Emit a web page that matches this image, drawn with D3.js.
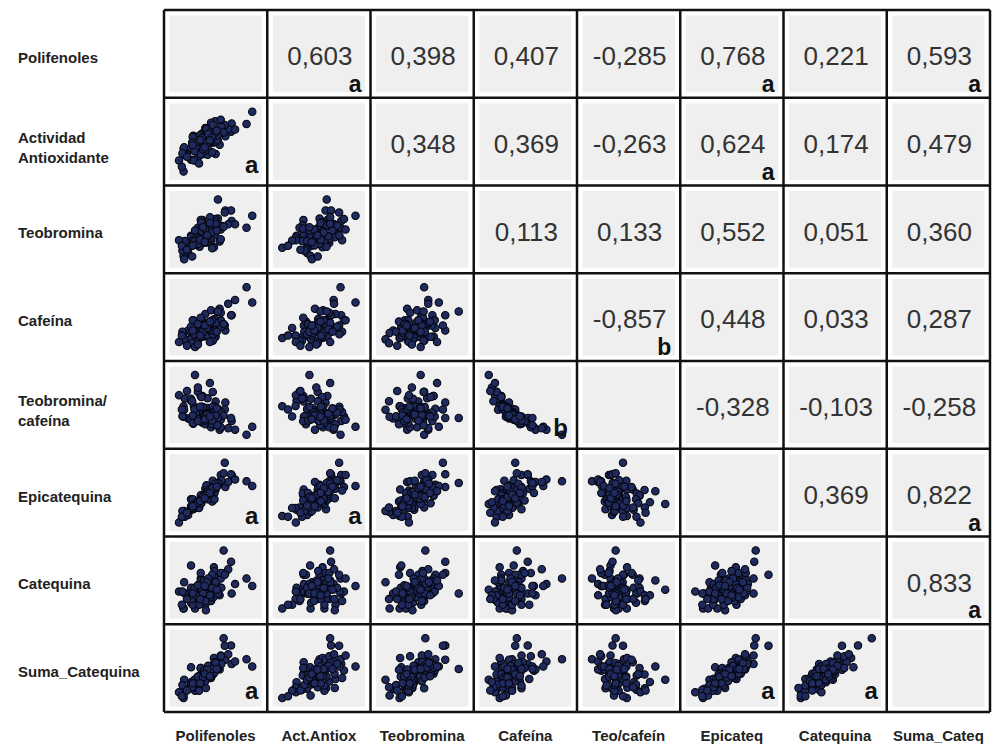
<!DOCTYPE html>
<html>
<head>
<meta charset="utf-8">
<script src="https://cdn.jsdelivr.net/npm/d3@7"></script>
<style>
  body { margin: 0; background: #ffffff; }
  text { font-family: Arial, "Liberation Sans", Helvetica, sans-serif; }
</style>
</head>
<body>
<svg id="chart" width="995" height="747"></svg>
<script>
// ---------- labels ----------
const colLabels = ["Polifenoles", "Act.Antiox", "Teobromina", "Cafeína", "Teo/cafeín", "Epicateq", "Catequina", "Suma_Cateq"];
const rowLabels = [["Polifenoles"], ["Actividad", "Antioxidante"], ["Teobromina"], ["Cafeína"],
                   ["Teobromina/", "cafeína"], ["Epicatequina"], ["Catequina"], ["Suma_Catequina"]];

// ---------- correlation coefficients (upper triangle) ----------
const correlations = [
  [null, 0.603, 0.398, 0.407, -0.285, 0.768, 0.221, 0.593],
  [null, null, 0.348, 0.369, -0.263, 0.624, 0.174, 0.479],
  [null, null, null, 0.113, 0.133, 0.552, 0.051, 0.360],
  [null, null, null, null, -0.857, 0.448, 0.033, 0.287],
  [null, null, null, null, null, -0.328, -0.103, -0.258],
  [null, null, null, null, null, null, 0.369, 0.822],
  [null, null, null, null, null, null, null, 0.833],
  [null, null, null, null, null, null, null, null]
];
// significance letters (upper triangle, mirrored into the scatter cells)
const significance = [
  ["", "a", "", "", "", "a", "", "a"],
  ["", "", "", "", "", "a", "", ""],
  ["", "", "", "", "", "", "", ""],
  ["", "", "", "", "b", "", "", ""],
  ["", "", "", "", "", "", "", ""],
  ["", "", "", "", "", "", "", "a"],
  ["", "", "", "", "", "", "", "a"],
  ["", "", "", "", "", "", "", ""]
];

// ---------- observations (one value per sample, same order in every array) ----------
const polifenoles = [143,163,190,147,214,186,138,168,163,240,130,183,185,160,150,178,203,130,172,195,143,132,193,160,169,213,155,165,131,220,157,178,148,184,250,143,180,170,122,181,158,195,157,161,182,172,208,146,185,128,181,160,184,202,145,171,168,189,127,196,150,155,176,136,200,190,
  170,158,175,152,166,177,162,186,149,168,173,155,164,180,159,171,146,188,167,176];
const actividad = [414,556,514,542,608,445,460,583,444,605,352,527,620,446,535,529,540,475,441,627,473,438,494,548,580,564,427,521,481,575,469,612,410,508,670,477,455,579,411,506,544,556,395,525,508,482,577,535,559,448,600,443,511,599,506,520,464,518,377,590,470,500,560,431,560,545,
  525,498,540,485,502,515,530,560,460,490,552,512,470,532,520,505,492,570,480,518];
const teobromina = [25.9,24.4,29.5,24.3,29.0,26.6,22.3,27.1,29.2,27.6,23.4,23.5,29.4,26.1,24.5,26.4,31.2,21.7,28.1,27.2,23.7,24.8,24.7,29.2,25.6,31.2,27.6,25.6,21.0,28.3,25.9,25.0,25.5,27.3,30.1,25.7,23.3,27.3,25.0,27.5,23.6,25.2,24.9,28.7,26.2,24.5,28.3,24.9,28.9,22.8,26.0,27.4,26.0,30.8,21.6,27.0,24.5,27.5,23.8,28.0,27.0,25.5,29.8,23.0,27.8,33.5,
  26.8,25.2,27.9,24.0,26.3,25.4,26.9,28.4,24.8,27.2,25.8,24.2,27.7,26.6,25.1,26.0,23.9,27.0,24.6,28.6];
const cafeina = [2.5,3.8,3.3,3.9,4.3,2.6,3.1,4.4,2.6,6.5,2.5,2.5,3.9,3.5,3.0,4.7,3.1,2.9,2.6,3.9,3.4,2.3,4.8,2.6,3.3,4.3,2.3,3.2,2.4,5.5,3.3,3.0,2.7,4.0,5.3,2.4,3.8,3.1,2.2,2.3,3.2,4.5,3.3,2.6,3.7,2.7,5.2,3.9,3.5,3.0,2.8,4.1,3.1,3.5,2.1,3.7,3.6,4.6,2.7,3.4,1.8,2.0,2.2,1.9,3.6,4.6,
  3.3,3.0,3.6,2.9,3.4,3.1,2.9,3.7,2.8,3.5,3.2,3.6,3.0,3.9,2.7,3.3,3.1,3.0,3.5,3.8];
const teoCafeina = [10.36,6.42,8.94,6.23,6.74,10.23,7.19,6.16,11.23,4.25,9.36,9.40,7.54,7.46,8.17,5.62,10.06,7.48,10.81,6.97,6.97,10.78,5.15,11.23,7.76,7.26,12.00,8.00,8.75,5.15,7.85,8.33,9.44,6.83,5.68,10.71,6.13,8.81,11.36,11.96,7.38,5.60,7.55,11.04,7.08,9.07,5.44,6.38,8.26,7.60,9.29,6.68,8.39,8.80,10.29,7.30,6.81,5.98,8.81,8.24,15.00,12.75,13.55,12.11,7.72,7.28,
  8.12,8.40,7.75,8.28,7.74,8.19,9.28,7.68,8.86,7.77,8.06,6.72,9.23,6.82,9.30,7.88,7.71,9.00,7.03,7.53];
const epicatequina = [4.9,6.9,9.2,5.0,10.9,8.4,4.0,8.5,7.3,9.8,3.8,8.4,8.8,6.4,5.8,7.8,8.8,4.5,7.7,10.9,5.5,3.7,9.7,7.4,6.9,11.0,5.3,7.3,4.7,10.1,5.3,8.2,5.2,7.8,9.0,6.7,6.3,9.1,2.7,8.3,6.5,9.8,5.2,6.0,8.8,6.7,9.7,6.7,8.9,4.7,9.9,6.5,6.7,13.0,5.3,7.7,7.8,9.0,3.7,10.0,5.9,6.2,8.1,4.4,11.2,9.5,
  7.6,6.6,8.4,5.9,7.0,7.9,6.8,9.4,5.6,7.3,8.0,6.1,7.1,8.6,6.4,7.5,5.5,8.9,6.9,7.8];
const catequina = [6.6,4.8,8.7,4.8,5.7,8.7,5.7,3.9,6.6,8.1,3.3,9.9,6.0,7.2,3.3,6.9,9.0,3.3,5.7,8.1,10.2,5.7,5.4,8.1,3.0,10.8,4.5,6.6,7.5,7.2,7.2,4.5,4.8,9.3,6.9,4.2,8.7,4.8,6.0,5.4,6.6,9.0,3.9,7.8,5.1,6.0,9.6,3.9,7.5,6.0,6.0,9.0,7.5,8.7,4.8,5.7,5.7,6.9,3.9,6.6,6.3,5.4,7.8,4.8,12.6,5.7,
  6.9,6.0,7.2,5.4,7.8,5.1,6.3,7.5,6.6,4.5,8.1,7.0,5.7,6.6,4.8,7.5,5.7,6.3,6.9,5.4];
const sumaCatequina = [11.5,11.7,17.9,9.8,16.6,17.1,9.7,12.4,13.9,17.9,7.1,18.3,14.8,13.6,9.1,14.7,17.8,7.8,13.4,19.0,15.7,9.4,15.1,15.5,9.9,21.8,9.8,13.9,12.2,17.3,12.5,12.7,10.0,17.1,15.9,10.9,15.0,13.9,8.7,13.7,13.1,18.8,9.1,13.8,13.9,12.7,19.3,10.6,16.4,10.7,15.9,15.5,14.2,21.7,10.1,13.4,13.5,15.9,7.6,16.6,12.2,11.6,15.9,9.2,23.8,15.2,
  14.5,12.6,15.6,11.3,14.8,13.0,13.1,16.9,12.2,11.8,16.1,13.1,12.8,15.2,11.2,15.0,11.2,15.2,13.8,13.2];

const series = [polifenoles, actividad, teobromina, cafeina, teoCafeina, epicatequina, catequina, sumaCatequina];

// ---------- layout ----------
const gridLeft = 164, gridRight = 990, gridTop = 10, gridBottom = 712;
const n = series.length;
const svg = d3.select("#chart");

const bandX = d3.scaleBand().domain(d3.range(n)).range([gridLeft, gridRight]);
const bandY = d3.scaleBand().domain(d3.range(n)).range([gridTop, gridBottom]);
const bw = bandX.bandwidth(), bh = bandY.bandwidth();

const fmt = d3.formatLocale({decimal: ",", thousands: ".", grouping: [3], currency: ["", ""], minus: "-"}).format(".3f");

// per-variable scales (same scale reused in its row and its column)
const xScales = series.map(s => d3.scaleLinear().domain(d3.extent(s)).range([15, bw - 15]));
const yScales = series.map(s => d3.scaleLinear().domain(d3.extent(s)).range([bh - 14, 14]));

const cells = [];
for (let i = 0; i < n; i++) for (let j = 0; j < n; j++) cells.push({i, j});

const cell = svg.append("g").selectAll("g.cell").data(cells).join("g")
  .attr("class", "cell")
  .attr("transform", d => `translate(${bandX(d.j)},${bandY(d.i)})`);

cell.append("rect")
  .attr("x", 5.5).attr("y", 5.5)
  .attr("width", bw - 11).attr("height", bh - 11)
  .attr("fill", "#efefef");

// scatter cells (lower triangle): x = column variable, y = row variable
cell.filter(d => d.i > d.j).each(function(d) {
  const pts = series[d.j].map((v, k) => [v, series[d.i][k]]);
  d3.select(this).append("g").selectAll("circle").data(pts).join("circle")
    .attr("cx", p => xScales[d.j](p[0]))
    .attr("cy", p => yScales[d.i](p[1]))
    .attr("r", 3.7)
    .attr("fill", "#1f2a5e")
    .attr("stroke", "#06070f")
    .attr("stroke-width", 1.1);
  const letter = significance[d.j][d.i];
  if (letter) {
    d3.select(this).append("text")
      .attr("x", bw - 9).attr("y", bh - 13)
      .attr("text-anchor", "end")
      .attr("font-size", 24).attr("font-weight", "bold").attr("fill", "#111")
      .text(letter);
  }
});

// correlation cells (upper triangle)
cell.filter(d => d.i < d.j).each(function(d) {
  const g = d3.select(this);
  g.append("text")
    .attr("x", bw / 2 + 1).attr("y", 55)
    .attr("text-anchor", "middle")
    .attr("font-size", 26).attr("fill", "#333")
    .text(fmt(correlations[d.i][d.j]));
  const letter = significance[d.i][d.j];
  if (letter) {
    g.append("text")
      .attr("x", bw - 9).attr("y", bh - 6)
      .attr("text-anchor", "end")
      .attr("font-size", 23).attr("font-weight", "bold").attr("fill", "#111")
      .text(letter);
  }
});

// grid lines
const lines = svg.append("g").attr("stroke", "#111").attr("stroke-width", 2.5);
d3.range(n + 1).forEach(k => {
  const x = k < n ? bandX(k) : gridRight;
  const y = k < n ? bandY(k) : gridBottom;
  lines.append("line").attr("x1", x).attr("x2", x).attr("y1", gridTop).attr("y2", gridBottom);
  lines.append("line").attr("x1", gridLeft).attr("x2", gridRight).attr("y1", y).attr("y2", y);
});

// row labels
const rl = svg.append("g").selectAll("text").data(rowLabels).join("text")
  .attr("x", 18)
  .attr("font-size", 15).attr("font-weight", "bold").attr("fill", "#222");
rl.each(function(lines, i) {
  const cy = bandY(i) + bh / 2;
  const t = d3.select(this);
  if (lines.length === 1) {
    t.append("tspan").attr("x", 18).attr("y", cy + 9).text(lines[0]);
  } else {
    t.append("tspan").attr("x", 18).attr("y", cy + 1.5).text(lines[0]);
    t.append("tspan").attr("x", 18).attr("y", cy + 21).text(lines[1]);
  }
});

// column labels
svg.append("g").selectAll("text").data(colLabels).join("text")
  .attr("x", (d, j) => bandX(j) + bw / 2)
  .attr("y", 741)
  .attr("text-anchor", "middle")
  .attr("font-size", 15).attr("font-weight", "bold").attr("fill", "#222")
  .text(d => d);
</script>
</body>
</html>
